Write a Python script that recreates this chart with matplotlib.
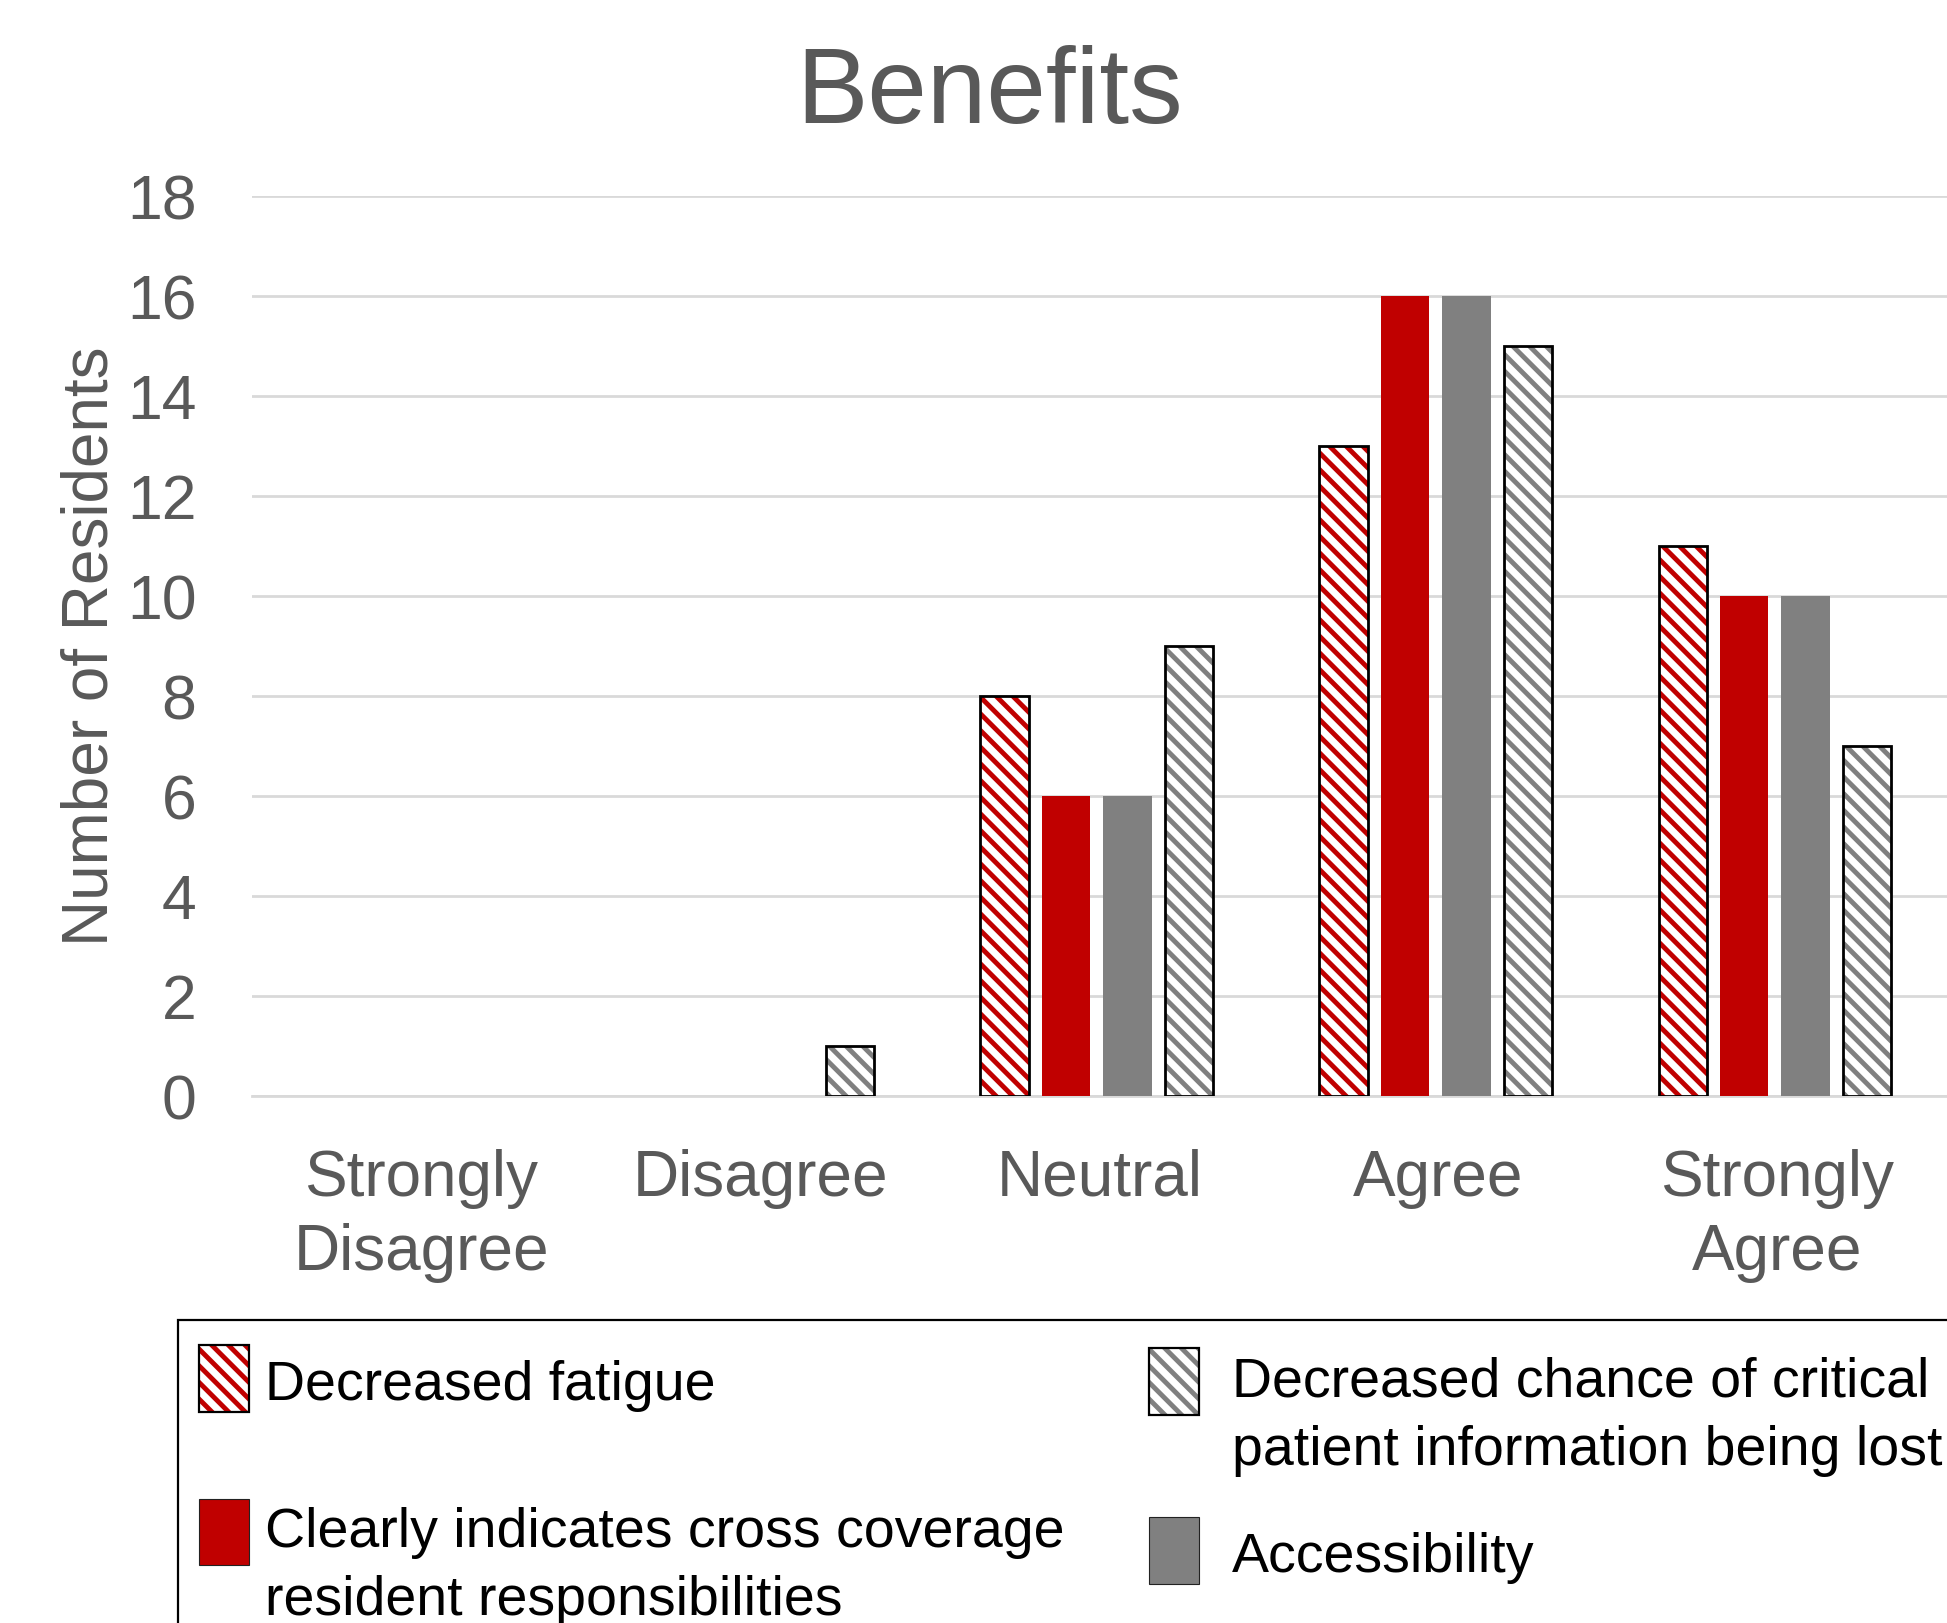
import numpy as np
from matplotlib import pyplot as plt
from matplotlib.patches import Rectangle

plt.rcParams['font.family'] = ['Liberation Sans', 'DejaVu Sans']
plt.rcParams['hatch.linewidth'] = 3.5

categories = ["Strongly\nDisagree", "Disagree", "Neutral", "Agree", "Strongly\nAgree"]
fatigue = [0, 0, 8, 13, 11]
cross_coverage = [0, 0, 6, 16, 10]
accessibility = [0, 0, 6, 16, 10]
info_lost = [0, 1, 9, 15, 7]

red = "#C00000"
grey = "#808080"
txt = "#595959"
stripes = "\\\\"


class BoxHandler:
    # draws the legend swatch, lifted up to the first text line when asked
    def __init__(self, face, hatch=None, lift=0.0):
        self.face = face
        self.hatch = hatch
        self.lift = lift

    def legend_artist(self, legend, orig_handle, fontsize, handlebox):
        w, h = 36.0, 48.0
        x0 = -handlebox.xdescent
        y0 = 0.38 * fontsize + self.lift - h / 2
        if self.hatch:
            p = Rectangle((x0, y0), w, h, facecolor="white", edgecolor=self.face,
                          hatch=self.hatch, linewidth=0)
            handlebox.add_artist(p)
            e = Rectangle((x0, y0), w, h, fill=False, edgecolor="black", linewidth=1.6)
            handlebox.add_artist(e)
        else:
            p = Rectangle((x0, y0), w, h, facecolor=self.face, edgecolor="#222222", linewidth=0.8)
            handlebox.add_artist(p)
        return p


fig = plt.figure(figsize=(19.47, 16.23), dpi=100)
ax = fig.add_axes([0.1294, 0.3247, 0.8706, 0.5545])

x = np.arange(len(categories))
w = 0.143
step = 0.181
shift = -0.008

# hatched bars: stripes first, black outline on top
b1 = ax.bar(x - 1.5 * step + shift, fatigue, w, color="white", edgecolor=red, hatch=stripes, linewidth=0, zorder=3)
b1e = ax.bar(x - 1.5 * step + shift, fatigue, w, fill=False, edgecolor="black", linewidth=2, zorder=4)
b2 = ax.bar(x - 0.5 * step + shift, cross_coverage, w, color=red, linewidth=0, zorder=3)
b3 = ax.bar(x + 0.5 * step + shift, accessibility, w, color=grey, linewidth=0, zorder=3)
b4 = ax.bar(x + 1.5 * step + shift, info_lost, w, color="white", edgecolor=grey, hatch=stripes, linewidth=0, zorder=3)
b4e = ax.bar(x + 1.5 * step + shift, info_lost, w, fill=False, edgecolor="black", linewidth=2, zorder=4)

# zero-height bars should not show outlines
for bars in (b1e, b4e):
    for p, v in zip(bars, bars.datavalues):
        if v == 0:
            p.set_visible(False)

ax.set_xlim(-0.5, 4.5)
ax.set_ylim(0, 18)
ax.set_yticks(range(0, 19, 2))
ax.grid(axis="y", color="#D9D9D9", linewidth=2, zorder=0)
ax.set_axisbelow(True)
for s in ["top", "right", "left"]:
    ax.spines[s].set_visible(False)
ax.spines["bottom"].set_color("#D9D9D9")
ax.spines["bottom"].set_linewidth(2)

ax.set_xticks(x)
ax.set_xticklabels(categories, fontsize=46, color=txt, linespacing=1.3)
ax.tick_params(axis="x", length=0, pad=38)
ax.tick_params(axis="y", length=0, pad=40, labelsize=45, labelcolor=txt)
ax.set_ylabel("Number of Residents", fontsize=46, color=txt, labelpad=4.5)

fig.text(0.508, 0.9415, "Benefits", fontsize=77, color=txt, ha="center", va="center")

# legend: two separate columns inside one frame
lift = 24.6
common = dict(loc="upper left", fontsize=40, frameon=False, handlelength=0.9,
              handleheight=1.17, borderpad=0.5, borderaxespad=0)
leg1 = fig.legend([b1[0], b2[0]],
                  ["Decreased fatigue",
                   "Clearly indicates cross coverage\nresident responsibilities"],
                  bbox_to_anchor=(170.9 / 1947, 1 - 1325 / 1623),
                  handletextpad=0.3, labelspacing=1.725,
                  handler_map={b1[0]: BoxHandler(red, stripes), b2[0]: BoxHandler(red, lift=lift)},
                  **common)
leg2 = fig.legend([b4[0], b3[0]],
                  ["Decreased chance of critical\npatient information being lost",
                   "Accessibility"],
                  bbox_to_anchor=(1120.8 / 1947, 1 - 1329 / 1623),
                  handletextpad=0.6, labelspacing=0.865,
                  handler_map={b4[0]: BoxHandler(grey, stripes, lift=lift), b3[0]: BoxHandler(grey)},
                  **common)
for leg in (leg1, leg2):
    for t in leg.get_texts():
        t.set_linespacing(1.4)

frame = Rectangle((178 / 1947, -0.1), 1.2, 1 - 1320 / 1623 + 0.1, transform=fig.transFigure,
                  fill=False, edgecolor="black", linewidth=1.6, clip_on=False)
fig.patches.append(frame)

fig.savefig("out.png", dpi=100)
